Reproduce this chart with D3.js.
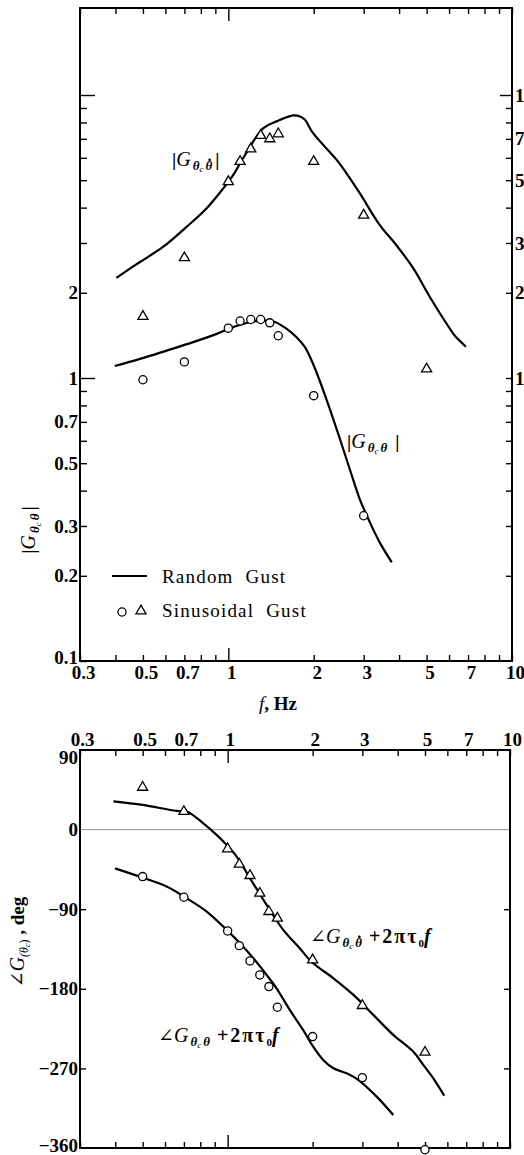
<!DOCTYPE html>
<html>
<head>
<meta charset="utf-8">
<script src="https://cdn.jsdelivr.net/npm/d3@7"></script>
<style>
  html, body { margin: 0; padding: 0; background: #fff; }
  svg { display: block; }
  text { font-family: "Liberation Serif", "DejaVu Serif", serif; fill: #000; }
</style>
</head>
<body>
<svg id="chart" width="524" height="1155"></svg>
<script>
'use strict';

// ---- data ----
var xTicks = [0.3, 0.4, 0.5, 0.6, 0.7, 0.8, 0.9, 1, 2, 3, 4, 5, 6, 7, 8, 9, 10];
var xLabels = [0.3, 0.5, 0.7, 1, 2, 3, 5, 7, 10];

var magTicksLeft = [0.1, 0.2, 0.3, 0.4, 0.5, 0.6, 0.7, 0.8, 0.9, 1, 2, 3, 4, 5, 6, 7, 8, 9, 10];
var magLabelsLeft = [0.1, 0.2, 0.3, 0.5, 0.7, 1, 2];
var magTicksRight = [0.2, 0.3, 0.4, 0.5, 0.6, 0.7, 0.8, 0.9, 1, 2, 3, 4, 5, 6, 7, 8, 9, 10];
var magLabelsRight = [1, 2, 3, 5, 7, 10];
var phaseTicks = [90, 0, -90, -180, -270, -360];

// sinusoidal gust test points
var sineFreq = [0.5, 0.7, 1.0, 1.1, 1.2, 1.3, 1.4, 1.5, 2, 3, 5];
var magDotSine = [1.65, 2.66, 4.94, 5.82, 6.45, 7.2, 7.0, 7.29, 5.82, 3.76, 1.076];
var magSine = [0.986, 1.14, 1.50, 1.59, 1.61, 1.61, 1.567, 1.41, 0.866, 0.326, null];
var phaseDotSine = [47.8, 20.4, -21.8, -39.2, -52, -72, -92.7, -100.3, -147.3, -199, -251.8];
var phaseSine = [-53.1, -76.5, -114.6, -131.2, -148.5, -164.3, -177.5, -200.9, -234, -280.4, -362];

// random gust curves
var randFreqDot = [0.403, 0.488, 0.590, 0.703, 0.839, 0.960, 1.041, 1.145, 1.329, 1.48, 1.694, 1.79, 1.863, 1.99, 2.41, 2.61, 2.91, 3.42, 3.92, 4.49, 5.14, 6.05, 6.29, 6.88];
var randMagDot = [2.26, 2.57, 2.91, 3.38, 3.98, 4.68, 5.22, 6.14, 7.64, 8.07, 8.47, 8.40, 8.17, 7.33, 5.90, 5.29, 4.49, 3.47, 2.94, 2.44, 1.93, 1.49, 1.41, 1.29];

var randFreq = [0.398, 0.488, 0.606, 0.752, 0.910, 1.041, 1.225, 1.44, 1.606, 1.74, 1.863, 1.99, 2.10, 2.28, 2.475, 2.68, 2.91, 3.16, 3.42, 3.77];
var randMag = [1.103, 1.168, 1.25, 1.339, 1.432, 1.513, 1.584, 1.584, 1.492, 1.394, 1.285, 1.121, 0.978, 0.776, 0.608, 0.476, 0.372, 0.308, 0.262, 0.223];

var randPhaseDotFreq = [0.394, 0.5, 0.66, 0.716, 0.82, 0.914, 0.992, 1.076, 1.2, 1.374, 1.574, 1.80, 1.99, 2.37, 2.79, 3.28, 3.86, 4.54, 4.93, 5.35, 5.85];
var randPhaseDot = [32, 28, 21.1, 20.4, 7.1, -6, -17.3, -30.5, -55, -85.1, -113.4, -134.2, -150, -168.1, -186.9, -209.5, -232.1, -251, -266, -281.2, -300.8];

var randPhaseFreq = [0.399, 0.5, 0.608, 0.716, 0.843, 0.992, 1.106, 1.233, 1.374, 1.49, 1.66, 1.85, 1.99, 2.18, 2.37, 2.64, 2.90, 3.37, 3.86];
var randPhase = [-43.8, -54.3, -64.4, -77.7, -92.7, -113.4, -128.6, -145.5, -164.3, -179.4, -203.9, -226.5, -243.4, -260.4, -269.9, -275.6, -283, -301.9, -322.6];

// ---- layout ----
var svg = d3.select("#chart");
var FONT = 19;

var xTop = d3.scaleLog().domain([0.3, 10]).range([80, 512]);
var yTop = d3.scaleLog().domain([0.1, 20.3]).range([661, 8]);
var xBot = d3.scaleLog().domain([0.3, 10]).range([80, 510]);
var yBot = d3.scaleLinear().domain([-360, 90]).range([1148, 750]);

function zip(xs, ys) {
    return xs.map(function (x, i) { return {x: x, y: ys[i]}; })
        .filter(function (d) { return d.y != null; });
}

function fmtNum(d) {
    return d < 0 ? "\u2212" + Math.abs(d) : String(d);
}

function styleAxis(g) {
    g.select(".domain").remove();
    g.attr("font-family", null).attr("font-size", null);
    g.selectAll(".tick line").attr("stroke", "#000").attr("stroke-width", 1.4);
    g.selectAll(".tick text")
        .style("font-size", FONT + "px")
        .style("font-weight", "bold")
        .attr("fill", "#000");
}

function labelled(list) {
    return function (d) { return list.indexOf(d) >= 0 ? fmtNum(d) : ""; };
}

function richText(g, x, y, parts) {
    var t = g.append("text").attr("x", x).attr("y", y);
    parts.forEach(function (p) {
        t.append("tspan")
            .attr("class", p.dot ? "dotme" : null)
            .attr("dx", p.dx || 0)
            .attr("dy", p.dy || 0)
            .style("font-size", p.size + "px")
            .style("font-style", p.italic ? "italic" : "normal")
            .style("font-weight", p.bold ? "bold" : "normal")
            .style("font-family", p.family || null)
            .style("letter-spacing", p.ls || null)
            .text(p.t);
    });
    // time-derivative dot drawn over the marked symbol
    t.selectAll("tspan.dotme").each(function () {
        var b = this.getBBox();
        g.append("circle")
            .attr("cx", b.x + b.width * 0.6)
            .attr("cy", b.y + b.height * 0.12)
            .attr("r", 1.3)
            .attr("fill", "#000");
    });
    return t;
}

// G_{θc θ} pieces, with optional dot over the second θ
function gSub(dotted, lead) {
    return [
        lead,
        {t: "G", size: 20, italic: true},
        {t: "\u03b8", size: 13, italic: true, bold: true, dx: 2, dy: 4},
        {t: "c", size: 9, italic: true, dy: 2},
        {t: "\u03b8", size: 13, italic: true, bold: true, dx: 2, dy: -2, dot: dotted}
    ];
}

function drawCurve(g, data, x, y) {
    g.append("path")
        .datum(data)
        .attr("fill", "none")
        .attr("stroke", "#000")
        .attr("stroke-width", 2.2)
        .attr("stroke-linejoin", "round")
        .attr("d", d3.line()
            .x(function (d) { return x(d.x); })
            .y(function (d) { return y(d.y); })
            .curve(d3.curveCatmullRom));
}

function drawMarkers(g, data, x, y, type) {
    var sym = type === "tri" ? d3.symbol(d3.symbolTriangle, 44) : d3.symbol(d3.symbolCircle, 52);
    g.selectAll(null)
        .data(data)
        .enter()
        .append("path")
        .attr("d", sym)
        .attr("transform", function (d) { return "translate(" + x(d.x) + "," + y(d.y) + ")"; })
        .attr("fill", "#fff")
        .attr("stroke", "#000")
        .attr("stroke-width", 1.3);
}

// ================= top panel: magnitude =================
var gTop = svg.append("g");

gTop.append("rect")
    .attr("x", xTop.range()[0]).attr("y", yTop.range()[1])
    .attr("width", xTop.range()[1] - xTop.range()[0])
    .attr("height", yTop.range()[0] - yTop.range()[1])
    .attr("fill", "none").attr("stroke", "#000").attr("stroke-width", 2);

var axB = gTop.append("g").attr("transform", "translate(0," + yTop.range()[0] + ")")
    .call(d3.axisBottom(xTop).tickValues(xTicks).tickSizeInner(-6).tickSizeOuter(0)
        .tickPadding(5).tickFormat(labelled(xLabels)));
styleAxis(axB);
axB.selectAll(".tick line").filter(function (d) { return d === 1; }).attr("y2", -13);
axB.selectAll(".tick text").attr("dx", 3);

var axT = gTop.append("g").attr("transform", "translate(0," + yTop.range()[1] + ")")
    .call(d3.axisTop(xTop).tickValues(xTicks).tickSizeInner(-6).tickSizeOuter(0).tickFormat(""));
styleAxis(axT);
axT.selectAll(".tick line").filter(function (d) { return d === 1; }).attr("y2", 13);

var axL = gTop.append("g").attr("transform", "translate(" + xTop.range()[0] + ",0)")
    .call(d3.axisLeft(yTop).tickValues(magTicksLeft).tickSizeInner(-7).tickSizeOuter(0)
        .tickPadding(2).tickFormat(labelled(magLabelsLeft)));
styleAxis(axL);
axL.selectAll(".tick line").filter(function (d) { return d === 1 || d === 10; }).attr("x2", 15);
axL.selectAll(".tick text").filter(function (d) { return d === 0.1; }).attr("dy", "0.15em");

var axR = gTop.append("g").attr("transform", "translate(" + xTop.range()[1] + ",0)")
    .call(d3.axisRight(yTop).tickValues(magTicksRight).tickSizeInner(-6).tickSizeOuter(0)
        .tickPadding(3).tickFormat(labelled(magLabelsRight)));
styleAxis(axR);
axR.selectAll(".tick line").filter(function (d) { return d === 10; }).attr("x2", -12);

drawCurve(gTop, zip(randFreqDot, randMagDot), xTop, yTop);
drawCurve(gTop, zip(randFreq, randMag), xTop, yTop);
drawMarkers(gTop, zip(sineFreq, magDotSine), xTop, yTop, "tri");
drawMarkers(gTop, zip(sineFreq, magSine), xTop, yTop, "circ");

// curve names
var bar = {t: "|", size: 19, bold: true};
richText(gTop, 172, 166, gSub(true, bar).concat([{t: "|", size: 19, bold: true, dx: 3, dy: -4}]));
richText(gTop, 347, 448, gSub(false, bar).concat([{t: "|", size: 19, bold: true, dx: 8, dy: -4}]));

// legend
gTop.append("line").attr("x1", 112).attr("x2", 147).attr("y1", 576).attr("y2", 576)
    .attr("stroke", "#000").attr("stroke-width", 2.2);
gTop.append("text").attr("x", 162).attr("y", 583)
    .style("font-size", FONT + "px").style("letter-spacing", "1.2px").style("word-spacing", "6px")
    .text("Random Gust");
drawMarkers(gTop, [{x: 0, y: 0}], function () { return 122; }, function () { return 612; }, "circ");
drawMarkers(gTop, [{x: 0, y: 0}], function () { return 141; }, function () { return 611; }, "tri");
gTop.append("text").attr("x", 162).attr("y", 617)
    .style("font-size", FONT + "px").style("letter-spacing", "1.2px").style("word-spacing", "6px")
    .text("Sinusoidal Gust");

// axis titles
richText(gTop, 278, 710, [
    {t: "f", size: 19, italic: true},
    {t: ", Hz", size: 19, bold: true}
]).attr("text-anchor", "middle");

richText(gTop, 0, 0, gSub(false, bar).concat([{t: "|", size: 19, bold: true, dx: 3, dy: -4}]))
    .attr("text-anchor", "middle").attr("transform", "translate(35,530) rotate(-90)");

// ================= bottom panel: phase =================
var gBot = svg.append("g");

gBot.append("line")
    .attr("x1", xBot.range()[0]).attr("x2", xBot.range()[1])
    .attr("y1", yBot(0)).attr("y2", yBot(0))
    .attr("stroke", "#999").attr("stroke-width", 1);

gBot.append("rect")
    .attr("x", xBot.range()[0]).attr("y", yBot.range()[1])
    .attr("width", xBot.range()[1] - xBot.range()[0])
    .attr("height", yBot.range()[0] - yBot.range()[1])
    .attr("fill", "none").attr("stroke", "#000").attr("stroke-width", 2);

var bxT = gBot.append("g").attr("transform", "translate(0," + yBot.range()[1] + ")")
    .call(d3.axisTop(xBot).tickValues(xTicks).tickSizeInner(-6).tickSizeOuter(0)
        .tickPadding(4).tickFormat(labelled(xLabels)));
styleAxis(bxT);
bxT.selectAll(".tick line").filter(function (d) { return d === 1; }).attr("y2", 13);
bxT.selectAll(".tick text").attr("dx", 2);

var bxB = gBot.append("g").attr("transform", "translate(0," + yBot.range()[0] + ")")
    .call(d3.axisBottom(xBot).tickValues(xTicks).tickSizeInner(-6).tickSizeOuter(0).tickFormat(""));
styleAxis(bxB);
bxB.selectAll(".tick line").filter(function (d) { return d === 1; }).attr("y2", -13);

var byL = gBot.append("g").attr("transform", "translate(" + xBot.range()[0] + ",0)")
    .call(d3.axisLeft(yBot).tickValues(phaseTicks).tickSizeInner(-6).tickSizeOuter(0)
        .tickPadding(2).tickFormat(fmtNum));
styleAxis(byL);
byL.selectAll(".tick line").filter(function (d) { return d === 90 || d === -360 || d === 0; }).remove();
byL.selectAll(".tick text").filter(function (d) { return d === 90; }).attr("dy", "0.7em");
byL.selectAll(".tick text").filter(function (d) { return d === -360; }).attr("dy", "0.2em");

var byR = gBot.append("g").attr("transform", "translate(" + xBot.range()[1] + ",0)")
    .call(d3.axisRight(yBot).tickValues([-90, -180, -270]).tickSizeInner(-6).tickSizeOuter(0).tickFormat(""));
styleAxis(byR);

drawCurve(gBot, zip(randPhaseDotFreq, randPhaseDot), xBot, yBot);
drawCurve(gBot, zip(randPhaseFreq, randPhase), xBot, yBot);
drawMarkers(gBot, zip(sineFreq, phaseDotSine), xBot, yBot, "tri");
drawMarkers(gBot, zip(sineFreq, phaseSine), xBot, yBot, "circ");

function phaseTail() {
    return [
        {t: " +2\u03c0\u03c4", size: 20, bold: true, dy: -4, ls: "2px"},
        {t: "0", size: 11, bold: true, dy: 4},
        {t: "f", size: 20, italic: true, bold: true, dy: -4}
    ];
}
var angle = {t: "\u2220", size: 19, family: "DejaVu Serif"};
richText(gBot, 310, 943, gSub(true, angle).concat(phaseTail()));
richText(gBot, 158, 1042, gSub(false, angle).concat(phaseTail()));

richText(gBot, 0, 0, [
    angle,
    {t: "G", size: 20, italic: true},
    {t: "(\u03b8", size: 12, italic: true, dy: 4},
    {t: "c", size: 8, italic: true, dy: 2},
    {t: ")", size: 12, dy: -2},
    {t: " , deg", size: 19, bold: true, dy: -4}
]).attr("text-anchor", "middle").attr("transform", "translate(24,942) rotate(-90)");
</script>
</body>
</html>
